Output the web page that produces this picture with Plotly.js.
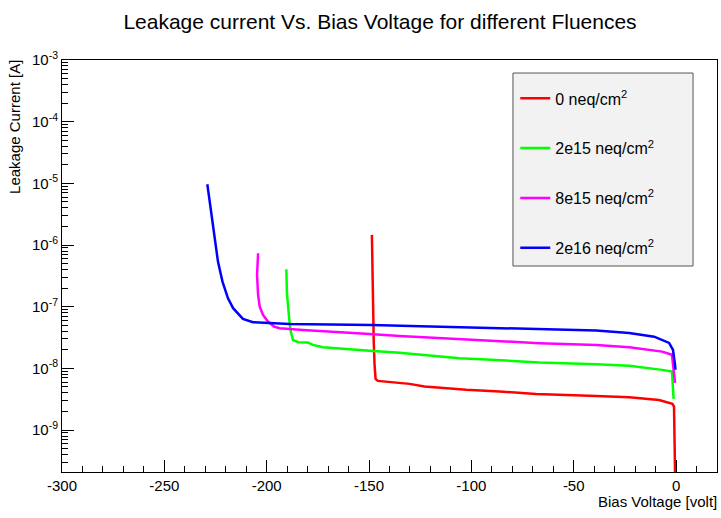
<!DOCTYPE html>
<html>
<head>
<meta charset="utf-8">
<script src="https://cdn.plot.ly/plotly-3.0.1.min.js"></script>
<style>html,body{margin:0;padding:0;background:#fff;}#chart{width:721px;height:518px;}</style>
</head>
<body>
<div id="chart"></div>
<script>
// ---- data ----
const seriesNames = ["0 neq/cm<sup>2</sup>", "2e15 neq/cm<sup>2</sup>", "8e15 neq/cm<sup>2</sup>", "2e16 neq/cm<sup>2</sup>"];
const seriesColors = ["#ff0000", "#00ff00", "#ff00ff", "#0000ff"];

const redV = [-148.6,-148.4,-148.1,-147.7,-147.3,-146.8,-145.7,-138.4,-130.2,-122.9,-102.6,-86.3,-68.4,-39.0,-22.9,-8.3,-1.8,-1.0,-0.2];
const redI = [1.46e-6,3.27e-7,9.46e-8,2.72e-8,1.14e-8,6.76e-9,6.27e-9,5.97e-9,5.61e-9,5.07e-9,4.49e-9,4.21e-9,3.86e-9,3.58e-9,3.41e-9,3.08e-9,2.66e-9,2.40e-9,5e-11];

const greenV = [-190.4,-190.1,-189.1,-188.4,-187.2,-184.7,-179.9,-177.4,-172.5,-161.1,-149.8,-135.1,-105.9,-87.8,-66.8,-39.0,-22.9,-6.8,-2.0,-1.2];
const greenI = [4.06e-7,1.66e-7,6.92e-8,4.21e-8,2.90e-8,2.66e-8,2.62e-8,2.40e-8,2.21e-8,2.05e-8,1.94e-8,1.80e-8,1.46e-8,1.37e-8,1.24e-8,1.17e-8,1.10e-8,9.46e-9,8.88e-9,3.2e-9];

const magentaV = [-204.2,-204.7,-204.2,-203.4,-201.8,-199.4,-196.4,-193.7,-182.3,-166.0,-149.8,-135.1,-105.9,-87.8,-66.8,-39.0,-22.9,-6.8,-2.0,-0.5];
const magentaI = [7.36e-7,3.27e-7,1.55e-7,1.00e-7,7.36e-8,5.74e-8,4.76e-8,4.48e-8,4.21e-8,3.95e-8,3.62e-8,3.36e-8,2.97e-8,2.79e-8,2.56e-8,2.40e-8,2.21e-8,1.87e-8,1.66e-8,5.8e-9];

const blueV = [-229.0,-227.5,-225.7,-223.8,-221.6,-218.9,-216.4,-211.6,-206.7,-196.1,-188.8,-148.8,-135.1,-105.9,-87.8,-71.7,-39.0,-22.9,-10.7,-3.4,-1.5,-0.5,-0.3];
const blueI = [9.66e-6,3.95e-6,1.46e-6,5.38e-7,2.55e-7,1.37e-7,9.46e-8,6.34e-8,5.61e-8,5.32e-8,5.26e-8,5.07e-8,4.94e-8,4.71e-8,4.49e-8,4.37e-8,4.10e-8,3.76e-8,3.27e-8,2.59e-8,2.0e-8,1.14e-8,9.5e-9];

const xTickVals = [-300,-250,-200,-150,-100,-50,0];
const xTickText = ["-300","-250","-200","-150","-100","-50","0"];
const yTickVals = [1e-9,1e-8,1e-7,1e-6,1e-5,1e-4,1e-3];
const yTickText = ["10<sup>-9</sup>","10<sup>-8</sup>","10<sup>-7</sup>","10<sup>-6</sup>","10<sup>-5</sup>","10<sup>-4</sup>","10<sup>-3</sup>"];

const chartTitle = "Leakage current Vs. Bias Voltage for different Fluences";
const xTitle = "Bias Voltage [volt]";
const yTitle = "Leakage Current [A]";

// ---- build ----
const FONT = "Liberation Sans, Arial, Helvetica, sans-serif";
const xs = [redV, greenV, magentaV, blueV];
const ys = [redI, greenI, magentaI, blueI];
const traces = xs.map((x, i) => ({
  type: "scatter", mode: "lines", x: x, y: ys[i], name: seriesNames[i],
  legendgroup: "g" + i,
  line: {color: seriesColors[i], width: 2.5}
}));

// minor log ticks 2..9 per decade
const yMinor = [];
for (let e = -10; e <= -4; e++) for (let k = 2; k <= 9; k++) yMinor.push(k * Math.pow(10, e));

const layout = {
  width: 721, height: 518,
  margin: {l: 62, r: 4, t: 60, b: 46},
  paper_bgcolor: "#ffffff", plot_bgcolor: "#ffffff",
  font: {family: FONT, size: 15, color: "#000"},
  title: {text: chartTitle, font: {family: FONT, size: 21, color: "#000"},
          x: 0.4855, xref: "paper", xanchor: "center", y: 0.9575, yref: "container", yanchor: "middle"},
  showlegend: true,
  legend: {x: 0.692, xanchor: "left", y: 0.948, yanchor: "top", bgcolor: "rgba(0,0,0,0)",
           borderwidth: 0, font: {family: FONT, size: 16, color: "#000"},
           traceorder: "grouped", tracegroupgap: 26},
  xaxis: {range: [-300, 20], tickvals: xTickVals, ticktext: xTickText,
          ticks: "inside", ticklen: 12, tickcolor: "#000", tickwidth: 1,
          minor: {dtick: 10, ticks: "inside", ticklen: 6, tickcolor: "#000", showgrid: false},
          showline: true, linecolor: "#000", linewidth: 1, mirror: true,
          showgrid: false, zeroline: false, tickfont: {family: FONT, size: 15, color: "#000"}},
  yaxis: {type: "log", range: [-9.68, -3], tickvals: yTickVals, ticktext: yTickText,
          ticks: "inside", ticklen: 12, tickcolor: "#000", tickwidth: 1,
          minor: {tickvals: yMinor, ticks: "inside", ticklen: 6, tickcolor: "#000", showgrid: false},
          showline: true, linecolor: "#000", linewidth: 1, mirror: true,
          showgrid: false, zeroline: false, tickfont: {family: FONT, size: 15, color: "#000"}},
  shapes: [{type: "rect", xref: "paper", yref: "paper", x0: 0.6885, x1: 0.9634, y0: 0.5, y1: 0.9684,
            fillcolor: "#f2f2f2", line: {color: "#555", width: 1}, layer: "below"}],
  annotations: [
    {text: yTitle, xref: "paper", yref: "paper", x: (15 - 62) / 655, y: 1.005, xanchor: "center", yanchor: "top",
     textangle: -90, showarrow: false, font: {family: FONT, size: 15, color: "#000"}},
    {text: xTitle, xref: "paper", yref: "paper", x: 1, y: -(501 - 472) / 412, xanchor: "right", yanchor: "middle",
     xshift: 2, showarrow: false, font: {family: FONT, size: 15, color: "#000"}}
  ]
};

Plotly.newPlot("chart", traces, layout, {displayModeBar: false, staticPlot: true});
</script>
</body>
</html>
